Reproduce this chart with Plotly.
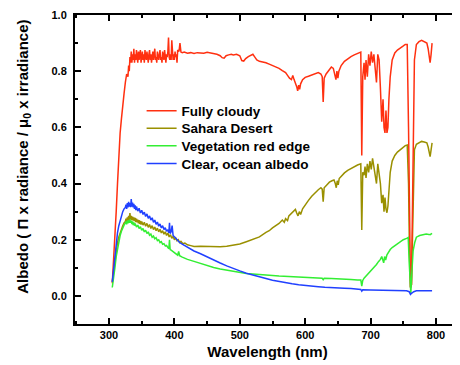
import plotly.graph_objects as go

# ---------------- data ----------------
cloudy_wl = [305, 307, 309, 311, 313, 315, 317, 319, 321, 323, 325, 327, 329, 330, 331, 332, 333,
             334, 335, 336, 337, 338, 339, 340, 341, 342, 343, 344, 345, 346, 347, 348, 349, 350,
             351, 352, 353, 354, 355, 356, 357, 358, 359, 360, 361, 362, 363, 364, 365, 366, 367,
             368, 369, 370, 371, 372, 373, 374, 375, 376, 377, 378, 379, 380, 381, 382, 383, 384,
             385, 386, 387, 388, 389, 390, 391, 392, 393, 394, 395, 396, 397, 398, 399, 400, 401,
             402, 403, 404, 405, 407, 408.5, 410, 412, 415, 420, 425, 430, 435, 440, 445, 450, 455,
             460, 465, 470, 473, 476, 479, 483, 487, 490, 495, 500, 503, 506, 509, 513, 517, 520,
             523, 526, 530, 535, 540, 545, 550, 555, 560, 565, 570, 573, 576, 579, 581, 583, 585,
             587, 588.5, 590, 591.5, 593, 596, 600, 605, 610, 615, 620, 624, 626, 627.5, 629, 632,
             636, 640, 643, 645.5, 647, 648.5, 650, 651.5, 655, 660, 665, 670, 675, 680, 685,
             686.5, 688, 690, 691.5, 693, 695, 697, 699, 701, 703, 705, 707, 709, 711, 713, 715,
             717, 719, 720.5, 722, 723.5, 725, 726.5, 728, 730, 733, 737, 741, 745, 749, 753, 756,
             758, 759.5, 761, 762.5, 764, 765.5, 767, 770, 774, 778, 782, 786, 788, 789.5, 791,
             792.5, 794]
cloudy_alb = [0.045, 0.12, 0.20, 0.30, 0.40, 0.50, 0.58, 0.63, 0.69, 0.72, 0.76, 0.79, 0.78, 0.82,
              0.80, 0.85, 0.83,
              0.87, 0.83, 0.86, 0.84, 0.88, 0.83, 0.86, 0.84, 0.875, 0.85, 0.83, 0.87, 0.84, 0.86,
              0.875, 0.83, 0.85, 0.87, 0.84, 0.86, 0.83, 0.875, 0.85, 0.84, 0.87, 0.85, 0.83, 0.86,
              0.875, 0.84, 0.86, 0.83, 0.85, 0.87, 0.84, 0.86, 0.88, 0.84, 0.85, 0.83, 0.87, 0.85,
              0.84, 0.86, 0.875, 0.84, 0.85, 0.83, 0.87, 0.85, 0.84, 0.875, 0.85, 0.83, 0.86, 0.85,
              0.87, 0.92, 0.85, 0.84, 0.86, 0.84, 0.91, 0.85, 0.84, 0.86, 0.84, 0.87, 0.85, 0.86,
              0.83, 0.875, 0.87, 0.90, 0.868, 0.866, 0.868, 0.864, 0.866, 0.863, 0.866, 0.865,
              0.864, 0.867, 0.865, 0.864, 0.86, 0.855, 0.848, 0.846, 0.855, 0.858, 0.86, 0.858,
              0.86, 0.855, 0.838, 0.836, 0.845, 0.852, 0.858, 0.86, 0.85, 0.84, 0.835, 0.833,
              0.83, 0.825, 0.82, 0.815, 0.81, 0.802, 0.795, 0.785, 0.775, 0.77, 0.785, 0.77, 0.76,
              0.745, 0.73, 0.75, 0.735, 0.755, 0.77, 0.778, 0.782, 0.786, 0.79, 0.795, 0.79, 0.78,
              0.69, 0.775, 0.79, 0.805, 0.815, 0.81, 0.79, 0.77, 0.80, 0.775, 0.80, 0.82, 0.835,
              0.845, 0.852, 0.858, 0.864, 0.868,
              0.50, 0.78, 0.83, 0.77, 0.84, 0.78, 0.86, 0.82, 0.87, 0.83, 0.86, 0.79, 0.76, 0.86,
              0.84, 0.74, 0.62, 0.70, 0.60, 0.58, 0.66, 0.58, 0.60, 0.70, 0.78, 0.84, 0.865, 0.875,
              0.88, 0.888, 0.895, 0.895,
              0.60, 0.20, 0.03, 0.04, 0.35, 0.70, 0.84, 0.895, 0.905, 0.91, 0.905, 0.90, 0.88,
              0.845, 0.83, 0.86, 0.90]

sahara_wl = [305, 307, 309, 311, 313, 315, 317, 319, 321, 323, 325,
             326, 327, 328, 329, 330, 331, 332, 333, 334, 335, 336, 337, 338, 339, 340, 341, 342,
             343, 344, 345, 346, 347, 348, 349, 350, 352, 354, 356, 358, 360, 362, 364, 366, 368,
             370, 372, 374, 376, 378, 380, 382, 384, 386, 388, 390, 392, 394, 396, 398, 400, 402,
             404, 406, 408, 410, 413, 416, 420, 425, 430, 440, 450, 460, 470, 480, 490, 500, 510,
             520, 530, 540, 545, 550, 555, 560, 565, 568, 570, 573, 575, 580, 585, 587, 589, 591,
             593, 596, 600, 605, 610, 615, 620, 624, 626, 627.5, 629, 633, 637, 641, 644, 646,
             647.5, 649, 650.5, 652, 656, 660, 665, 670, 675, 680, 685,
             686.5, 688, 690, 691.5, 693, 695, 697, 699, 701, 703, 705, 707, 709, 711, 713, 715,
             717, 719, 720.5, 722, 723.5, 725, 726.5, 728, 730, 733, 737, 741, 745, 749, 753, 756,
             758, 759.5, 761, 762.5, 764, 765.5, 767, 770, 774, 778, 782, 786, 788, 789.5, 791,
             792.5, 794]
sahara_alb = [0.05, 0.09, 0.13, 0.16, 0.19, 0.21, 0.225, 0.24, 0.25, 0.26, 0.265,
              0.275, 0.262, 0.28, 0.268, 0.285, 0.27, 0.295, 0.272, 0.285, 0.27, 0.282, 0.268,
              0.28, 0.266, 0.278, 0.263, 0.275, 0.262, 0.272, 0.258, 0.27, 0.256, 0.267, 0.254,
              0.265, 0.252, 0.262, 0.248, 0.258, 0.244, 0.254, 0.24, 0.25, 0.236, 0.245, 0.232,
              0.241, 0.228, 0.237, 0.224, 0.232, 0.22, 0.228, 0.215, 0.224, 0.21, 0.218, 0.205,
              0.212, 0.20, 0.206, 0.196, 0.20, 0.19, 0.194, 0.186, 0.188, 0.182, 0.179, 0.176,
              0.177, 0.176, 0.175, 0.175, 0.177, 0.18, 0.185, 0.193, 0.202, 0.21, 0.226, 0.232,
              0.242, 0.25, 0.258, 0.27, 0.262, 0.275, 0.268, 0.285, 0.298, 0.308, 0.295, 0.285,
              0.30, 0.29, 0.31, 0.325, 0.34, 0.355, 0.368, 0.378, 0.385, 0.38, 0.335, 0.385,
              0.395, 0.405, 0.41, 0.413, 0.40, 0.385, 0.41, 0.395, 0.418, 0.43, 0.438, 0.447,
              0.454, 0.46, 0.466, 0.47,
              0.235, 0.44, 0.43, 0.46, 0.42, 0.47, 0.44, 0.48, 0.45, 0.49, 0.46, 0.43, 0.40, 0.47,
              0.44, 0.40, 0.33, 0.36, 0.30, 0.35, 0.31, 0.296, 0.32, 0.38, 0.44, 0.48, 0.50,
              0.512, 0.52, 0.528, 0.535, 0.537,
              0.40, 0.15, 0.03, 0.04, 0.25, 0.45, 0.52, 0.54, 0.545, 0.55, 0.548, 0.545, 0.53,
              0.51, 0.496, 0.52, 0.545]

veg_wl = [305, 307, 309, 311, 313, 315, 317, 319, 321, 323, 325,
          326, 327, 328, 329, 330, 331, 332, 333, 334, 335, 336, 337, 338, 339, 340, 342, 344,
          346, 348, 350, 352, 354, 356, 358, 360, 362, 364, 366, 368, 370, 372, 374, 376, 378,
          380, 382, 384, 386, 388, 390, 391.5, 392.5, 393.5, 395, 397, 400, 403, 405, 406.5,
          408, 412, 416, 420, 430, 440, 450, 460, 470, 480, 490, 500, 510, 520, 530, 540, 550,
          560, 570, 580, 590, 600, 610, 620, 626, 627.5, 629, 640, 650, 660, 670, 680, 685,
          686.5, 688, 690, 695, 700, 705, 709, 712, 715, 717, 718.5, 720, 721.5, 723, 725, 727,
          730, 733, 736, 740, 745, 750, 755, 757.5, 759, 760.5, 761.5, 763, 765, 767.5, 770,
          775, 780, 785, 789, 791, 794]
veg_alb = [0.03, 0.06, 0.10, 0.14, 0.17, 0.195, 0.215, 0.23, 0.245, 0.252, 0.26,
           0.265, 0.255, 0.268, 0.258, 0.27, 0.26, 0.272, 0.26, 0.268, 0.256, 0.265, 0.252,
           0.262, 0.25, 0.258, 0.245, 0.252, 0.24, 0.246, 0.234, 0.24, 0.228, 0.234, 0.222,
           0.228, 0.216, 0.22, 0.209, 0.213, 0.203, 0.207, 0.197, 0.20, 0.19, 0.193, 0.184,
           0.186, 0.178, 0.18, 0.172, 0.168, 0.20, 0.165, 0.163, 0.16, 0.155, 0.15, 0.145,
           0.158, 0.143, 0.138, 0.134, 0.13, 0.123, 0.115, 0.107, 0.101, 0.096, 0.092, 0.087,
           0.083, 0.08, 0.078, 0.077, 0.075, 0.073, 0.071, 0.07, 0.069, 0.067, 0.066, 0.065,
           0.064, 0.063, 0.058, 0.063, 0.062, 0.06, 0.059, 0.058, 0.057, 0.057,
           0.035, 0.055, 0.063, 0.075, 0.088, 0.10, 0.112, 0.122, 0.13, 0.14, 0.125, 0.118,
           0.14, 0.128, 0.146, 0.155, 0.165, 0.172, 0.177, 0.183, 0.193, 0.20, 0.205, 0.208,
           0.12, 0.03, 0.01, 0.08, 0.16, 0.19, 0.209, 0.215, 0.218, 0.22, 0.219, 0.218, 0.223]

ocean_wl = [305, 307, 309, 311, 313, 315, 317, 319, 321, 323, 325,
            326, 327, 328, 329, 330, 331, 332, 333, 334, 335, 336, 337, 338, 339, 340, 341,
            342, 344, 346, 348, 350, 352, 354, 356, 358, 360, 362, 364, 366, 368, 370, 372, 374,
            376, 378, 380, 382, 384, 386, 388, 390, 391.5, 392.5, 393.5, 395, 396.5, 398, 400,
            402, 404, 406, 408, 412, 416, 420, 430, 440, 450, 460, 470, 480, 490, 500, 510, 520,
            530, 540, 550, 560, 570, 580, 590, 600, 610, 620, 630, 640, 650, 660, 670, 680, 685,
            686.5, 688, 700, 720, 740, 755, 759, 761, 763, 766, 770, 780, 794]
ocean_alb = [0.05, 0.10, 0.15, 0.19, 0.225, 0.25, 0.27, 0.285, 0.30, 0.31, 0.315,
             0.325, 0.31, 0.33, 0.315, 0.335, 0.318, 0.33, 0.316, 0.345, 0.318, 0.332, 0.315,
             0.328, 0.31, 0.322, 0.305, 0.318, 0.302, 0.312, 0.295, 0.305, 0.29, 0.298, 0.283,
             0.292, 0.276, 0.285, 0.27, 0.278, 0.262, 0.27, 0.255, 0.263, 0.248, 0.256, 0.242,
             0.25, 0.236, 0.243, 0.23, 0.236, 0.225, 0.26, 0.222, 0.228, 0.25, 0.215, 0.21,
             0.202, 0.198, 0.192, 0.19, 0.184, 0.178, 0.172, 0.16, 0.15, 0.138, 0.127, 0.117,
             0.107, 0.097, 0.089, 0.081, 0.074, 0.068, 0.062, 0.056, 0.051, 0.047, 0.043, 0.04,
             0.037, 0.035, 0.033, 0.031, 0.029, 0.028, 0.027, 0.026, 0.024, 0.023,
             0.017, 0.022, 0.021, 0.02, 0.019, 0.018, 0.015, 0.005, 0.01, 0.015, 0.018, 0.019,
             0.018]

x_ticks = [300, 400, 500, 600, 700, 800]
y_ticks = [0.0, 0.2, 0.4, 0.6, 0.8, 1.0]
names = ["Fully cloudy", "Sahara Desert", "Vegetation red edge", "Clear, ocean albedo"]
x_title = "Wavelength (nm)"
y_title = "Albedo ( \u03a0 x radiance / \u03bc<sub>0</sub> x irradiance)"

# ---------------- figure ----------------
FONT = "Liberation Sans, Arial, sans-serif"
colors = {"cloudy": "#FF3010", "sahara": "#9A9000", "veg": "#33EE33", "ocean": "#2040FF"}

fig = go.Figure()
# drawing order: sahara, cloudy, vegetation, ocean (legend order kept via separate legends)
fig.add_trace(go.Scatter(x=sahara_wl, y=sahara_alb, mode="lines", name=names[1],
                         line=dict(color=colors["sahara"], width=1.5), legend="legend2"))
fig.add_trace(go.Scatter(x=cloudy_wl, y=cloudy_alb, mode="lines", name=names[0],
                         line=dict(color=colors["cloudy"], width=1.5), legend="legend"))
fig.add_trace(go.Scatter(x=veg_wl, y=veg_alb, mode="lines", name=names[2],
                         line=dict(color=colors["veg"], width=1.5), legend="legend3"))
fig.add_trace(go.Scatter(x=ocean_wl, y=ocean_alb, mode="lines", name=names[3],
                         line=dict(color=colors["ocean"], width=1.5), legend="legend4"))

leg_font = dict(family=FONT, size=13.5, color="black", weight="bold")
leg_x = 0.173
leg_common = dict(x=leg_x, xanchor="left", yanchor="middle", bgcolor="rgba(0,0,0,0)",
                  borderwidth=0, font=leg_font)

# the page body adds an 8 px offset, so the figure is 8 px smaller and margins shifted
fig.update_layout(
    width=452, height=357,
    margin=dict(l=67, r=0, t=7, b=41),
    paper_bgcolor="white", plot_bgcolor="white",
    showlegend=True,
    legend=dict(y=0.689, **leg_common),
    legend2=dict(y=0.633, **leg_common),
    legend3=dict(y=0.576, **leg_common),
    legend4=dict(y=0.519, **leg_common),
    xaxis=dict(
        range=[248, 836.7], tickvals=x_ticks, ticktext=[str(v) for v in x_ticks],
        automargin=False,
        showgrid=False, zeroline=False,
        showline=True, linecolor="black", linewidth=2, mirror="ticks",
        ticks="inside", ticklen=6, tickwidth=1.5, tickcolor="black",
        minor=dict(dtick=50, tick0=250, ticks="inside", ticklen=3, tickwidth=1.5,
                   tickcolor="black", showgrid=False),
        tickfont=dict(family=FONT, size=11, color="black", weight="bold"),
        title=dict(text=x_title, standoff=6,
                   font=dict(family=FONT, size=15, color="black", weight="bold")),
    ),
    yaxis=dict(
        range=[-0.1, 1.0], tickvals=y_ticks, ticktext=["%.1f" % v for v in y_ticks],
        automargin=False,
        showgrid=False, zeroline=False,
        showline=True, linecolor="black", linewidth=2, mirror=False,
        ticks="inside", ticklen=6, tickwidth=1.5, tickcolor="black",
        minor=dict(dtick=0.1, tick0=0, ticks="inside", ticklen=3, tickwidth=1.5,
                   tickcolor="black", showgrid=False),
        tickfont=dict(family=FONT, size=11, color="black", weight="bold"),
        ticklabelstandoff=4,
    ),
    annotations=[dict(
        text=y_title, textangle=-90, showarrow=False,
        xref="paper", yref="paper", x=-0.136, y=0.54, xanchor="center", yanchor="middle",
        font=dict(family=FONT, size=15, color="black", weight="bold"),
    )],
)

fig.write_html("out.html")
